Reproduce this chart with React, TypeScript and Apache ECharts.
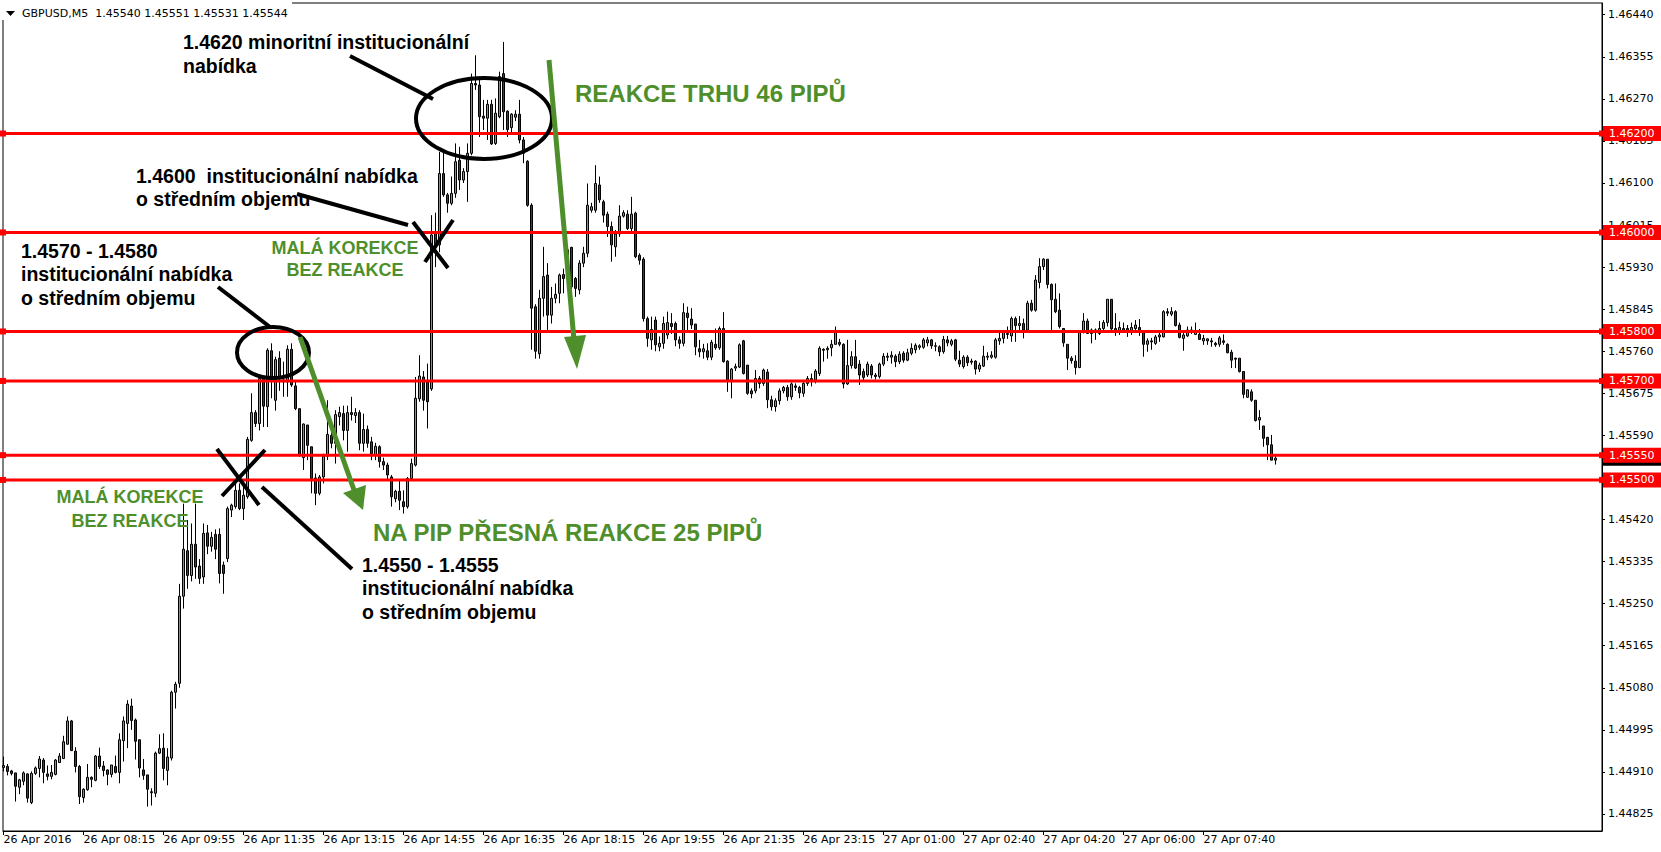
import React, { useEffect, useRef } from "react";
import * as echarts from "echarts";

// [open, high, low, close] for each 5-minute bar
const ohlc: number[][] = [
  [1.44919, 1.44941, 1.44911, 1.44923], [1.44921, 1.44926, 1.44903, 1.44911], [1.44912, 1.44914, 1.44903, 1.44907],
  [1.44908, 1.44908, 1.4485, 1.44881], [1.44879, 1.44896, 1.44865, 1.44894], [1.44891, 1.44911, 1.44883, 1.44908],
  [1.44906, 1.44907, 1.44848, 1.44857], [1.44848, 1.44911, 1.44845, 1.44907], [1.44907, 1.44921, 1.44904, 1.44918],
  [1.44917, 1.44942, 1.44899, 1.44936], [1.44934, 1.44938, 1.44887, 1.44909], [1.44906, 1.44923, 1.44893, 1.44901],
  [1.44901, 1.44924, 1.44895, 1.44909], [1.44905, 1.44936, 1.44903, 1.44934], [1.44929, 1.44948, 1.44928, 1.44942],
  [1.44937, 1.44983, 1.44936, 1.44971], [1.44966, 1.45022, 1.44965, 1.45013], [1.45013, 1.45015, 1.44953, 1.44953],
  [1.44952, 1.4496, 1.44909, 1.44921], [1.44921, 1.44924, 1.44845, 1.4486], [1.44858, 1.44877, 1.44848, 1.44875],
  [1.44874, 1.44926, 1.44872, 1.44899], [1.44899, 1.44901, 1.44879, 1.44895], [1.44893, 1.44944, 1.44891, 1.44942],
  [1.44942, 1.44959, 1.44916, 1.44921], [1.44922, 1.44932, 1.44901, 1.44913], [1.44914, 1.44915, 1.44883, 1.44905],
  [1.44905, 1.44924, 1.44899, 1.44924], [1.44921, 1.44943, 1.44907, 1.44909], [1.44909, 1.44988, 1.44887, 1.44975],
  [1.44973, 1.45022, 1.44931, 1.45013], [1.45008, 1.45055, 1.44958, 1.45047], [1.45043, 1.45058, 1.44995, 1.45014],
  [1.45015, 1.45018, 1.44935, 1.44972], [1.44975, 1.44975, 1.44899, 1.44918], [1.44914, 1.44936, 1.44894, 1.44903],
  [1.44904, 1.44904, 1.4484, 1.44875], [1.4487, 1.44877, 1.44842, 1.44868], [1.44867, 1.44951, 1.44859, 1.44948],
  [1.44948, 1.44986, 1.44946, 1.44957], [1.44958, 1.44988, 1.44893, 1.44917], [1.44913, 1.44958, 1.44883, 1.4494],
  [1.44938, 1.45074, 1.44933, 1.45071], [1.45071, 1.45092, 1.45038, 1.45087], [1.45089, 1.4529, 1.4508, 1.45265],
  [1.45265, 1.45452, 1.4524, 1.4536], [1.45357, 1.45419, 1.4528, 1.45307], [1.45307, 1.45412, 1.45295, 1.4537],
  [1.4537, 1.45452, 1.453, 1.45324], [1.45326, 1.4534, 1.4529, 1.45301], [1.45304, 1.45412, 1.4529, 1.45392],
  [1.45393, 1.45409, 1.4535, 1.45366], [1.45366, 1.45395, 1.45355, 1.45384], [1.4539, 1.454, 1.4534, 1.4536],
  [1.4539, 1.45402, 1.45291, 1.45311], [1.45328, 1.45335, 1.4527, 1.45311], [1.45341, 1.45446, 1.45334, 1.45442],
  [1.45439, 1.45452, 1.45425, 1.45449], [1.45446, 1.45493, 1.45442, 1.45479], [1.45479, 1.45493, 1.45439, 1.45442],
  [1.45442, 1.45493, 1.45419, 1.45469], [1.45466, 1.45587, 1.45462, 1.45582], [1.4558, 1.45675, 1.45577, 1.45636],
  [1.45636, 1.45641, 1.45607, 1.45614], [1.45614, 1.45708, 1.456, 1.45705], [1.45705, 1.45708, 1.45607, 1.45649],
  [1.45648, 1.45766, 1.45607, 1.45762], [1.45761, 1.45776, 1.45665, 1.45702], [1.45661, 1.45749, 1.4564, 1.45743],
  [1.45746, 1.4576, 1.4568, 1.45705], [1.45698, 1.45739, 1.45668, 1.45702], [1.45698, 1.45772, 1.45668, 1.45764],
  [1.45764, 1.45776, 1.45688, 1.45692], [1.4569, 1.45698, 1.45641, 1.45644], [1.45644, 1.45644, 1.45547, 1.4555],
  [1.45545, 1.45614, 1.4552, 1.45613], [1.45611, 1.45611, 1.4554, 1.4557], [1.45567, 1.45567, 1.45473, 1.45503],
  [1.45504, 1.45513, 1.45449, 1.45473], [1.45473, 1.4551, 1.45469, 1.45506], [1.45506, 1.45553, 1.45493, 1.45548],
  [1.45548, 1.45661, 1.4554, 1.45592], [1.4559, 1.45597, 1.45564, 1.45574], [1.45574, 1.45641, 1.45533, 1.45632],
  [1.45628, 1.45648, 1.4561, 1.45636], [1.45634, 1.4565, 1.4558, 1.456], [1.456, 1.4565, 1.45557, 1.45636],
  [1.45636, 1.45668, 1.4562, 1.45632], [1.4563, 1.45645, 1.45615, 1.45636], [1.45636, 1.45641, 1.4556, 1.45574],
  [1.45574, 1.45634, 1.45557, 1.45602], [1.45602, 1.4561, 1.45565, 1.45574], [1.45577, 1.45587, 1.4554, 1.45553],
  [1.4555, 1.45575, 1.4554, 1.45568], [1.45567, 1.4557, 1.45525, 1.45537], [1.45537, 1.45545, 1.4552, 1.4553],
  [1.4553, 1.45535, 1.455, 1.4551], [1.45506, 1.4551, 1.45446, 1.45466], [1.45462, 1.4548, 1.45455, 1.45477],
  [1.45477, 1.45498, 1.45439, 1.45459], [1.45456, 1.45479, 1.45432, 1.45446], [1.45446, 1.45506, 1.45442, 1.45503],
  [1.45503, 1.45543, 1.455, 1.45533], [1.4553, 1.45708, 1.45527, 1.45665], [1.45664, 1.45752, 1.45658, 1.4571],
  [1.45708, 1.4572, 1.4564, 1.45661], [1.45698, 1.45735, 1.45604, 1.45658], [1.45684, 1.46035, 1.4568, 1.45995],
  [1.45998, 1.4604, 1.4593, 1.45971], [1.45975, 1.46163, 1.4596, 1.46119], [1.46119, 1.46163, 1.46072, 1.46076],
  [1.46076, 1.4608, 1.4604, 1.46059], [1.46059, 1.46113, 1.46055, 1.46079], [1.46079, 1.4618, 1.4607, 1.46143],
  [1.46146, 1.46173, 1.46086, 1.46106], [1.46106, 1.4613, 1.461, 1.46123], [1.46123, 1.4618, 1.46062, 1.4616],
  [1.4616, 1.46321, 1.46156, 1.46301], [1.46301, 1.46358, 1.46288, 1.46298], [1.46298, 1.46315, 1.46193, 1.46234],
  [1.46235, 1.46268, 1.46207, 1.46231], [1.46231, 1.46268, 1.46187, 1.46259], [1.46259, 1.46268, 1.46177, 1.46179],
  [1.4618, 1.46271, 1.46177, 1.46241], [1.46234, 1.46325, 1.46231, 1.46315], [1.46321, 1.46385, 1.46207, 1.46244],
  [1.46245, 1.46247, 1.46193, 1.46208], [1.46212, 1.46241, 1.462, 1.46239], [1.46233, 1.46247, 1.46225, 1.46239],
  [1.46239, 1.46268, 1.4618, 1.46187], [1.46187, 1.46193, 1.4614, 1.4616], [1.46144, 1.46146, 1.46052, 1.46055],
  [1.46055, 1.46059, 1.45763, 1.45847], [1.4585, 1.45855, 1.45745, 1.4576], [1.45755, 1.45884, 1.45745, 1.45867],
  [1.45867, 1.45971, 1.4583, 1.45911], [1.45914, 1.45938, 1.45803, 1.45833], [1.45833, 1.4589, 1.45816, 1.45867],
  [1.45867, 1.45897, 1.45857, 1.45875], [1.45877, 1.45917, 1.45857, 1.45914], [1.45915, 1.45927, 1.45877, 1.45907],
  [1.45907, 1.4597, 1.4589, 1.45965], [1.4597, 1.45971, 1.4588, 1.4589], [1.45907, 1.4591, 1.4587, 1.45887],
  [1.45884, 1.45944, 1.45875, 1.45938], [1.45938, 1.45971, 1.4593, 1.45958], [1.45958, 1.46099, 1.4595, 1.46055],
  [1.46045, 1.4606, 1.4604, 1.46052], [1.46045, 1.46136, 1.4604, 1.46099], [1.46096, 1.46113, 1.4606, 1.46066],
  [1.46062, 1.46066, 1.4602, 1.46035], [1.46037, 1.46042, 1.45991, 1.46012], [1.46012, 1.46022, 1.45941, 1.45975],
  [1.45971, 1.46005, 1.45951, 1.45997], [1.45997, 1.46055, 1.45991, 1.46033], [1.46033, 1.46045, 1.4603, 1.4604],
  [1.46037, 1.46045, 1.46005, 1.46008], [1.46008, 1.46072, 1.45999, 1.46037], [1.46039, 1.46042, 1.45948, 1.45951],
  [1.45954, 1.45958, 1.45935, 1.45944], [1.45946, 1.4595, 1.4582, 1.45826], [1.45826, 1.4583, 1.45769, 1.45786],
  [1.45783, 1.4583, 1.45763, 1.45804], [1.45823, 1.4583, 1.4576, 1.45773], [1.45769, 1.4579, 1.4576, 1.45776],
  [1.45776, 1.4583, 1.45765, 1.45816], [1.45793, 1.4584, 1.45785, 1.45818], [1.45816, 1.45837, 1.45795, 1.4581],
  [1.45816, 1.4582, 1.4577, 1.45783], [1.45783, 1.4579, 1.45765, 1.45776], [1.45776, 1.45857, 1.4577, 1.45838],
  [1.45837, 1.4585, 1.458, 1.45828], [1.45825, 1.45847, 1.45805, 1.45813], [1.45815, 1.45815, 1.45752, 1.45769],
  [1.45765, 1.45783, 1.45748, 1.45759], [1.45759, 1.45775, 1.45745, 1.45765], [1.45761, 1.45776, 1.45742, 1.45748],
  [1.45748, 1.45783, 1.45742, 1.45778], [1.45774, 1.45806, 1.45763, 1.45767], [1.45767, 1.4581, 1.45763, 1.45806],
  [1.45806, 1.45839, 1.45737, 1.45739], [1.4574, 1.45742, 1.45678, 1.45699], [1.45699, 1.45726, 1.45665, 1.45724],
  [1.45726, 1.45735, 1.4572, 1.45729], [1.45728, 1.45776, 1.45726, 1.45773], [1.45781, 1.45783, 1.45713, 1.45715],
  [1.45732, 1.45732, 1.45672, 1.45675], [1.4568, 1.45685, 1.45665, 1.45674], [1.4568, 1.45722, 1.45675, 1.45705],
  [1.45705, 1.4571, 1.45685, 1.45695], [1.45695, 1.45725, 1.4569, 1.45722], [1.45718, 1.45724, 1.45645, 1.45662],
  [1.45662, 1.4567, 1.4564, 1.45648], [1.45648, 1.45665, 1.45638, 1.4566], [1.4566, 1.45685, 1.45652, 1.4568],
  [1.4568, 1.4569, 1.45675, 1.45687], [1.45687, 1.45692, 1.4566, 1.45668], [1.45668, 1.45697, 1.45662, 1.45694],
  [1.4569, 1.45695, 1.4568, 1.45687], [1.45687, 1.4569, 1.45665, 1.45676], [1.45675, 1.45698, 1.45668, 1.45695],
  [1.45695, 1.4571, 1.4569, 1.45705], [1.45702, 1.45715, 1.45689, 1.45705], [1.45702, 1.45724, 1.45695, 1.4572],
  [1.45715, 1.4577, 1.4571, 1.45766], [1.45764, 1.45766, 1.45739, 1.45762], [1.45763, 1.4577, 1.45745, 1.45766],
  [1.45767, 1.45783, 1.4575, 1.45774], [1.45774, 1.4581, 1.45773, 1.45798], [1.45778, 1.45785, 1.4577, 1.45774],
  [1.45774, 1.45776, 1.45685, 1.45694], [1.45694, 1.45783, 1.45692, 1.45731], [1.45731, 1.4576, 1.45725, 1.45749],
  [1.45749, 1.45783, 1.45724, 1.45726], [1.45734, 1.45742, 1.45692, 1.45712], [1.45719, 1.45725, 1.457, 1.45707],
  [1.45712, 1.45739, 1.45708, 1.45734], [1.4573, 1.45734, 1.45705, 1.45712], [1.45712, 1.45716, 1.45703, 1.45709],
  [1.45709, 1.45737, 1.45705, 1.45734], [1.45734, 1.45756, 1.4573, 1.4575], [1.4575, 1.45757, 1.4574, 1.45748],
  [1.45748, 1.4576, 1.45735, 1.45752], [1.4575, 1.45754, 1.45728, 1.45739], [1.45739, 1.4576, 1.45734, 1.45754],
  [1.45756, 1.4576, 1.45737, 1.45742], [1.45742, 1.45765, 1.4574, 1.45757], [1.45756, 1.45776, 1.45752, 1.45766],
  [1.45763, 1.45776, 1.45756, 1.45772], [1.45768, 1.45774, 1.45763, 1.45771], [1.45768, 1.45787, 1.45765, 1.45783],
  [1.45777, 1.45789, 1.4577, 1.45783], [1.45783, 1.45785, 1.45765, 1.45771], [1.45771, 1.45778, 1.4576, 1.4577],
  [1.45769, 1.45772, 1.4575, 1.45759], [1.45759, 1.45791, 1.45755, 1.45784], [1.45783, 1.45791, 1.4577, 1.45777],
  [1.45774, 1.45785, 1.4577, 1.45781], [1.45783, 1.45785, 1.4574, 1.45744], [1.45742, 1.45761, 1.45728, 1.45734],
  [1.45729, 1.45752, 1.45725, 1.45748], [1.45748, 1.45752, 1.4573, 1.45737], [1.4574, 1.45745, 1.45733, 1.45738],
  [1.4574, 1.45742, 1.45713, 1.45724], [1.45724, 1.45737, 1.45718, 1.45732], [1.4573, 1.45771, 1.45728, 1.4575],
  [1.45748, 1.45758, 1.45742, 1.4575], [1.45748, 1.4576, 1.45745, 1.45752], [1.45748, 1.45787, 1.45745, 1.45783],
  [1.45781, 1.45803, 1.45773, 1.45786], [1.45786, 1.45803, 1.45776, 1.45798], [1.45796, 1.4581, 1.45785, 1.45794],
  [1.45791, 1.4583, 1.45779, 1.45826], [1.45826, 1.4583, 1.45779, 1.45812], [1.45812, 1.45831, 1.45803, 1.45816],
  [1.45816, 1.45826, 1.45786, 1.45803], [1.45803, 1.45862, 1.45802, 1.45857], [1.45857, 1.45864, 1.4584, 1.45843],
  [1.45843, 1.45914, 1.4584, 1.45904], [1.45899, 1.45948, 1.45887, 1.45931], [1.45931, 1.45948, 1.45924, 1.45946],
  [1.45946, 1.45946, 1.45887, 1.45895], [1.45895, 1.45897, 1.45798, 1.45864], [1.45865, 1.45897, 1.45837, 1.4584],
  [1.45843, 1.45877, 1.45806, 1.4581], [1.45806, 1.45806, 1.45769, 1.45777], [1.45774, 1.45774, 1.45722, 1.45746],
  [1.45746, 1.4575, 1.45735, 1.45741], [1.4574, 1.45752, 1.45713, 1.45727], [1.45727, 1.45799, 1.45726, 1.45798],
  [1.45798, 1.45837, 1.45796, 1.45821], [1.45821, 1.45826, 1.45795, 1.45796], [1.45796, 1.45806, 1.45776, 1.45803],
  [1.458, 1.45806, 1.45783, 1.45803], [1.45796, 1.45821, 1.45793, 1.45806], [1.45806, 1.45823, 1.45803, 1.45818],
  [1.45818, 1.45865, 1.4581, 1.45865], [1.45865, 1.45865, 1.45803, 1.45805], [1.45806, 1.45837, 1.45791, 1.45798],
  [1.458, 1.4582, 1.45793, 1.45808], [1.45803, 1.45818, 1.458, 1.45806], [1.45806, 1.45813, 1.45789, 1.45802],
  [1.45802, 1.45818, 1.45793, 1.45808], [1.45806, 1.45823, 1.45803, 1.45813], [1.45808, 1.45825, 1.45791, 1.45798],
  [1.45798, 1.458, 1.45749, 1.45774], [1.45774, 1.45786, 1.45759, 1.45781], [1.45781, 1.45787, 1.45763, 1.45779],
  [1.45776, 1.45793, 1.45773, 1.45789], [1.45789, 1.45803, 1.45779, 1.45793], [1.45789, 1.45843, 1.45788, 1.4584],
  [1.4584, 1.45847, 1.45831, 1.45837], [1.45835, 1.45849, 1.45831, 1.4584], [1.4584, 1.45843, 1.4581, 1.45812],
  [1.45813, 1.45818, 1.45786, 1.45788], [1.45786, 1.45803, 1.45761, 1.45793], [1.45791, 1.4581, 1.45789, 1.45803],
  [1.45803, 1.4581, 1.45795, 1.458], [1.45794, 1.45818, 1.45793, 1.458], [1.45794, 1.45805, 1.45783, 1.45784],
  [1.45781, 1.45793, 1.45773, 1.45786], [1.45781, 1.45786, 1.45773, 1.45785], [1.45781, 1.45787, 1.45769, 1.45779],
  [1.45776, 1.45779, 1.45769, 1.45773], [1.45774, 1.45791, 1.45769, 1.45787], [1.45781, 1.45794, 1.45773, 1.45778],
  [1.45774, 1.45776, 1.45756, 1.45757], [1.45758, 1.45763, 1.45726, 1.45742], [1.45746, 1.45747, 1.45726, 1.45744],
  [1.45746, 1.45746, 1.45717, 1.45719], [1.45719, 1.45719, 1.45665, 1.45673], [1.45667, 1.45683, 1.45666, 1.45682],
  [1.45678, 1.45683, 1.45658, 1.45661], [1.45661, 1.45661, 1.45618, 1.4562], [1.45621, 1.45641, 1.45601, 1.45626],
  [1.45609, 1.45609, 1.45567, 1.45584], [1.45586, 1.45587, 1.4554, 1.45571], [1.45571, 1.45591, 1.4554, 1.4554],
  [1.4554, 1.45551, 1.45531, 1.45544],
];

const xTickLabels = [
  "26 Apr 2016", "26 Apr 08:15", "26 Apr 09:55", "26 Apr 11:35", "26 Apr 13:15", "26 Apr 14:55",
  "26 Apr 16:35", "26 Apr 18:15", "26 Apr 19:55", "26 Apr 21:35", "26 Apr 23:15", "27 Apr 01:00",
  "27 Apr 02:40", "27 Apr 04:20", "27 Apr 06:00", "27 Apr 07:40",
];
const barsPerLabel = 20;

const yTickValues = [
  1.4644, 1.46355, 1.4627, 1.46185, 1.461, 1.46015, 1.4593, 1.45845, 1.4576, 1.45675,
  1.4559, 1.45505, 1.4542, 1.45335, 1.4525, 1.45165, 1.4508, 1.44995, 1.4491, 1.44825,
];

const levels = [1.462, 1.46, 1.458, 1.457, 1.4555, 1.455];
const bidPrice = 1.45544;
const headerText = "GBPUSD,M5  1.45540 1.45551 1.45531 1.45544";

const X_MIN = -0.125;
const X_MAX = 399.625;

const GREEN = "#4f8f2b";
const BOLD = "bold 19.5px 'Liberation Sans', Arial, sans-serif";
const GBIG = "bold 24px 'Liberation Sans', Arial, sans-serif";
const GSMALL = "bold 18px 'Liberation Sans', Arial, sans-serif";
const SMALL = "11px 'DejaVu Sans', sans-serif";

function txt(text: string, x: number, y: number, font: string, fill: string, align = "left", z = 20) {
  return {
    type: "text",
    z,
    style: { text, x, y, font, fill, textAlign: align, textVerticalAlign: "middle", align, verticalAlign: "middle" },
  };
}
function ln(x1: number, y1: number, x2: number, y2: number, stroke: string, w: number) {
  return { type: "line", z: 20, shape: { x1, y1, x2, y2 }, style: { stroke, lineWidth: w, lineCap: "butt" } };
}

function levelSeries(v: number, color: string, showLine: boolean, z: number) {
  return {
    type: "line",
    z,
    silent: true,
    clip: false,
    data: [[X_MIN, v], [X_MAX, v]],
    symbol: showLine ? "rect" : "none",
    symbolSize: 6,
    showSymbol: showLine,
    itemStyle: { color },
    lineStyle: showLine ? { color, width: 3 } : { opacity: 0, width: 0 },
    endLabel: {
      show: true,
      formatter: () => v.toFixed(5),
      distance: 1,
      color: "#fff",
      backgroundColor: color,
      padding: [2, 8, 1, 6],
      lineHeight: 12,
      fontSize: 11,
      fontFamily: "DejaVu Sans",
      align: "left",
      verticalAlign: "middle",
    },
  };
}

export default function App() {
  const ref = useRef<HTMLDivElement>(null);
  useEffect(() => {
    const chart = echarts.init(ref.current!, null, { renderer: "svg" });
    const candleData = ohlc.map(([o, h, l, c], i) => [i, o, c, l, h]);
    const xTickValues = xTickLabels.map((_, k) => k * barsPerLabel);
    const option: any = {
      animation: false,
      backgroundColor: "#fff",
      grid: { left: 3, right: 59, top: 3, bottom: 21, show: true, borderColor: "#000", borderWidth: 1 },
      xAxis: {
        type: "value",
        min: X_MIN,
        max: X_MAX,
        splitLine: { show: false },
        axisLine: { show: true, onZero: false, lineStyle: { color: "#000", width: 1 } },
        axisTick: { show: true, length: 4, customValues: xTickValues, lineStyle: { color: "#000" } },
        axisLabel: {
          show: true,
          customValues: xTickValues,
          formatter: (v: number) => xTickLabels[Math.round(v / barsPerLabel)] || "",
          align: "left",
          margin: 3,
          color: "#000",
          fontSize: 11,
          fontFamily: "DejaVu Sans",
        },
      },
      yAxis: {
        type: "value",
        position: "right",
        min: 1.447906,
        max: 1.464637,
        splitLine: { show: false },
        axisLine: { show: true, onZero: false, lineStyle: { color: "#000", width: 1 } },
        axisTick: { show: true, length: 3, customValues: yTickValues, lineStyle: { color: "#000" } },
        axisLabel: {
          show: true,
          customValues: yTickValues,
          formatter: (v: number) => v.toFixed(5),
          margin: 6,
          color: "#000",
          fontSize: 11,
          fontFamily: "DejaVu Sans",
        },
      },
      series: [
        levelSeries(bidPrice, "#000", false, 1),
        {
          type: "candlestick",
          z: 2,
          barWidth: 2,
          data: candleData,
          itemStyle: {
            color: "#33cc33",
            color0: "#d40000",
            borderColor: "#000",
            borderColor0: "#000",
            borderColorDoji: "#000",
            borderWidth: 1,
          },
        },
        ...levels.map((v) => levelSeries(v, "#ff0000", true, 3)),
      ],
      graphic: [
        { type: "rect", z: 30, shape: { x: 0, y: 0, width: 292, height: 20 }, style: { fill: "#fff" } },
        { type: "polygon", z: 31, shape: { points: [[6, 11], [15, 11], [10.5, 16]] }, style: { fill: "#000" } },
        txt(headerText, 22, 13, SMALL, "#000", "left", 31),
        // ellipses
        { type: "ellipse", z: 20, shape: { cx: 484, cy: 118.5, rx: 68, ry: 40.5 }, style: { fill: "none", stroke: "#000", lineWidth: 4 } },
        { type: "ellipse", z: 20, shape: { cx: 273, cy: 352.5, rx: 36, ry: 25.5 }, style: { fill: "none", stroke: "#000", lineWidth: 4 } },
        // pointer lines
        ln(350, 56, 433, 99, "#000", 4),
        ln(297, 194, 408, 225, "#000", 4),
        ln(218, 287, 270, 327, "#000", 4),
        ln(262, 487, 352, 569, "#000", 4),
        // X marks
        ln(413, 222, 448, 268, "#000", 4),
        ln(453, 220, 425, 262, "#000", 4),
        ln(217, 449, 259, 505, "#000", 4),
        ln(265, 450, 222, 496, "#000", 4),
        // green arrows
        ln(300, 337, 354, 490, GREEN, 5),
        { type: "polygon", z: 20, shape: { points: [[343, 493], [366, 485], [363, 510]] }, style: { fill: GREEN } },
        ln(549, 60, 574, 340, GREEN, 5),
        { type: "polygon", z: 20, shape: { points: [[564, 337], [586, 335], [577, 369]] }, style: { fill: GREEN } },
        // black annotation texts
        txt("1.4620 minoritní institucionální", 183, 42, BOLD, "#000"),
        txt("nabídka", 183, 66, BOLD, "#000"),
        txt("1.4600  institucionální nabídka", 136, 176, BOLD, "#000"),
        txt("o středním objemu", 136, 199, BOLD, "#000"),
        txt("1.4570 - 1.4580", 21, 251, BOLD, "#000"),
        txt("institucionální nabídka", 21, 274, BOLD, "#000"),
        txt("o středním objemu", 21, 298, BOLD, "#000"),
        txt("1.4550 - 1.4555", 362, 565, BOLD, "#000"),
        txt("institucionální nabídka", 362, 588, BOLD, "#000"),
        txt("o středním objemu", 362, 612, BOLD, "#000"),
        // green texts
        txt("REAKCE TRHU 46 PIPŮ", 575, 93, GBIG, GREEN),
        txt("NA PIP PŘESNÁ REAKCE 25 PIPŮ", 373, 532, GBIG, GREEN),
        txt("MALÁ KOREKCE", 345, 248, GSMALL, GREEN, "center"),
        txt("BEZ REAKCE", 345, 270, GSMALL, GREEN, "center"),
        txt("MALÁ KOREKCE", 130, 497, GSMALL, GREEN, "center"),
        txt("BEZ REAKCE", 130, 521, GSMALL, GREEN, "center"),
      ],
    };
    chart.setOption(option);
    return () => chart.dispose();
  }, []);
  return (
    <div
      ref={ref}
      style={{ position: "absolute", left: 0, top: 0, width: 1661, height: 852, background: "#fff" }}
    />
  );
}
